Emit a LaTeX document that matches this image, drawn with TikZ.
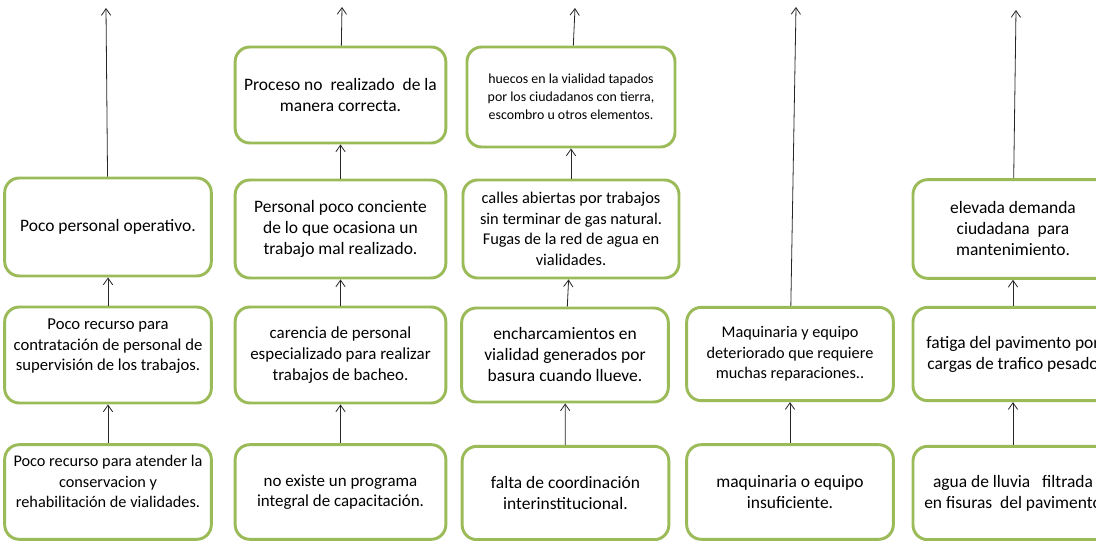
\documentclass[tikz,border=0pt]{standalone}
\usepackage{fontspec}
\setmainfont{Carlito}
\usetikzlibrary{arrows.meta, positioning}
\definecolor{olivo}{HTML}{9BBB59}

\begin{document}
\begin{tikzpicture}[x=0.75pt, y=-0.75pt, >={Straight Barb[length=5pt, width=7pt]},
  causa/.style={draw=olivo, line width=2.2pt, rounded corners=11pt, align=center,
    inner sep=2pt, minimum width=155pt, minimum height=72pt,
    font=\fontsize{13.1}{15.75}\selectfont},
  letra/.style={font=\fontsize{#1}{15.5}\selectfont},
  flecha/.style={->, line width=0.6pt, black!85}]
\useasboundingbox (0,0) rectangle (1096,541);

% columna 1
\node[causa, minimum height=73.5pt] (a1) at (108,227) {Poco personal operativo.};
\node[causa, letra=12.5] (a2) at (108,355) {Poco recurso para\\contratación de personal de\\supervisión de los trabajos.\\\mbox{}};
\node[causa, letra=12.2, minimum height=71pt] (a3) at (108,492) {Poco recurso para atender la\\conservacion y\\rehabilitación de vialidades.\\\mbox{}};
\coordinate (ta) at (106,8);

% columna 2
\node[causa, minimum width=158pt] (b1) at (340.5,95) {Proceso no\ \ realizado\ \ de la\\manera correcta.};
\node[causa, minimum width=158pt, minimum height=73.5pt] (b2) at (340.5,229) {Personal poco conciente\\de lo que ocasiona un\\trabajo mal realizado.};
\node[causa, letra=12.7, minimum width=158pt] (b3) at (340.5,355) {carencia de personal\\especializado para realizar\\trabajos de bacheo.};
\node[causa, letra=12.7, minimum width=158pt, minimum height=71pt] (b4) at (340.5,492) {no existe un programa\\integral de capacitación.};
\coordinate (tb) at (342,7);

% columna 3
\node[causa, minimum width=156pt, minimum height=75pt, font=\fontsize{10.4}{13.5}\selectfont] (c1) at (571,97) {huecos en la vialidad tapados\\por los ciudadanos con tierra,\\escombro u otros elementos.};
\node[causa, letra=12.3, minimum width=162pt, minimum height=73.5pt] (c2) at (571,229) {calles abiertas por trabajos\\sin terminar de gas natural.\\Fugas de la red de agua en\\vialidades.};
\node[causa, minimum height=70.5pt] (c3) at (565,355) {encharcamientos en\\vialidad generados por\\basura cuando llueve.};
\node[causa, minimum height=70pt] (c4) at (565.5,493) {falta de coordinación\\interinstitucional.};
\coordinate (tc) at (575,8);

% columna 4
\node[causa, letra=12.2, minimum height=70pt] (d1) at (790,354) {Maquinaria y equipo\\deteriorado que requiere\\muchas reparaciones..};
\node[causa, minimum height=71pt] (d2) at (790,492) {maquinaria o equipo\\insuficiente.};
\coordinate (td) at (796,7);

% columna 5 (cortada por el borde derecho)
\node[causa, minimum width=150pt, minimum height=74pt] (e1) at (1013,229) {elevada demanda\\ciudadana\ \ para\\mantenimiento.};
\node[causa, minimum width=150pt, minimum height=70pt] (e2) at (1013,354) {fatiga del pavimento por\\cargas de trafico pesado};
\node[causa, minimum width=150pt, minimum height=70pt] (e3) at (1013,493) {agua de lluvia\ \ \ filtrada\\en fisuras\ \ del pavimento};
\coordinate (te) at (1016,10);

\draw[flecha] (a3) -- (a2);
\draw[flecha] (a2) -- (a1);
\draw[flecha] (a1) -- (ta);
\draw[flecha] (b4) -- (b3);
\draw[flecha] (b3) -- (b2);
\draw[flecha] (b2) -- (b1);
\draw[flecha] (b1) -- (tb);
\draw[flecha] (c4) -- (c3);
\draw[flecha] (c3) -- (c2);
\draw[flecha] (c2) -- (c1);
\draw[flecha] (c1) -- (tc);
\draw[flecha] (d2) -- (d1);
\draw[flecha] (d1) -- (td);
\draw[flecha] (e3) -- (e2);
\draw[flecha] (e2) -- (e1);
\draw[flecha] (e1) -- (te);
\end{tikzpicture}
\end{document}
